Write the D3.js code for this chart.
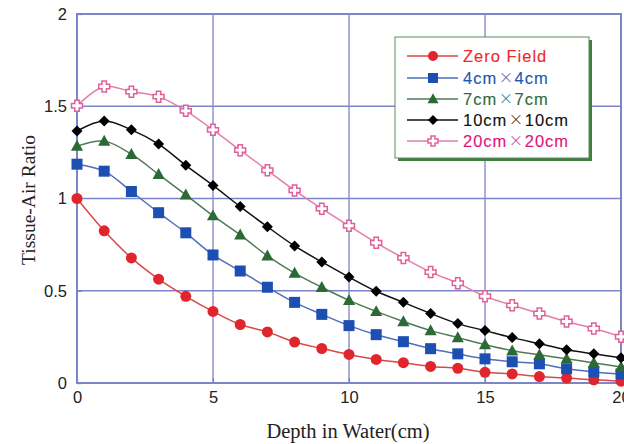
<!DOCTYPE html>
<html>
<head>
<meta charset="utf-8">
<script src="https://cdn.jsdelivr.net/npm/d3@7"></script>
<style>
  html, body { margin: 0; padding: 0; background: #fff; }
  svg { display: block; }
</style>
</head>
<body>
<svg id="chart" width="624" height="444"></svg>
<script>
// Depth in water (cm)
const depths = d3.range(0, 21);

// Tissue-air ratio for each field size
const zeroField = [1.0, 0.825, 0.678, 0.563, 0.47, 0.388, 0.317, 0.277, 0.222, 0.187, 0.155, 0.128, 0.11, 0.09, 0.08, 0.058, 0.049, 0.035, 0.027, 0.017, 0.01];
const field4 = [1.186, 1.148, 1.038, 0.923, 0.814, 0.694, 0.607, 0.519, 0.437, 0.372, 0.311, 0.262, 0.224, 0.186, 0.158, 0.131, 0.115, 0.104, 0.077, 0.06, 0.049];
const field7 = [1.284, 1.311, 1.24, 1.131, 1.02, 0.907, 0.803, 0.689, 0.596, 0.519, 0.448, 0.388, 0.333, 0.284, 0.246, 0.208, 0.175, 0.153, 0.131, 0.109, 0.087];
const field10 = [1.366, 1.42, 1.372, 1.295, 1.18, 1.071, 0.956, 0.847, 0.743, 0.656, 0.574, 0.497, 0.437, 0.377, 0.322, 0.284, 0.246, 0.213, 0.18, 0.158, 0.137];
const field20 = [1.503, 1.607, 1.579, 1.552, 1.475, 1.372, 1.262, 1.153, 1.044, 0.945, 0.852, 0.76, 0.678, 0.601, 0.541, 0.47, 0.421, 0.377, 0.333, 0.295, 0.251];

// legend labels split around the multiplication sign
const seriesNames = [["Zero Field"], ["4cm", "4cm"], ["7cm", "7cm"], ["10cm", "10cm"], ["20cm", "20cm"]];
const xTicks = [0, 5, 10, 15, 20];
const yTicks = [0, 0.5, 1, 1.5, 2];

const styles = [
  { line: "#d9484a", fill: "#e0262c", stroke: "#e0262c", text: "#ee2a2a", shape: "circle" },
  { line: "#4f6fbb", fill: "#1d4fb3", stroke: "#1d4fb3", text: "#1b55b5", shape: "square" },
  { line: "#4f7a55", fill: "#2b6a35", stroke: "#2b6a35", text: "#2f6a38", shape: "triangle" },
  { line: "#111111", fill: "#000000", stroke: "#000000", text: "#111111", shape: "diamond" },
  { line: "#e27fa6", fill: "#ffffff", stroke: "#e0609a", text: "#e0147c", shape: "cross" }
];
const seriesData = [zeroField, field4, field7, field10, field20];

const svg = d3.select("#chart");
const x = d3.scaleLinear().domain([0, 20]).range([77, 621]);
const y = d3.scaleLinear().domain([0, 2]).range([383, 14]);
const gridColor = "#7d84c9";
const sans = "Liberation Sans, Arial, sans-serif";
const serif = "Liberation Serif, Times New Roman, serif";

// grid
const grid = svg.append("g");
grid.selectAll("line.v").data(xTicks.slice(1, -1)).join("line")
  .attr("x1", d => x(d)).attr("x2", d => x(d))
  .attr("y1", y(2)).attr("y2", y(0))
  .attr("stroke", gridColor).attr("stroke-width", 1.3);
grid.selectAll("line.h").data(yTicks.slice(1, -1)).join("line")
  .attr("x1", x(0)).attr("x2", x(20))
  .attr("y1", d => y(d)).attr("y2", d => y(d))
  .attr("stroke", gridColor).attr("stroke-width", 1.3);

// axes
const xAxis = d3.axisBottom(x).tickValues(xTicks).tickSize(-5).tickPadding(8).tickFormat(d3.format("d"));
const yAxis = d3.axisLeft(y).tickValues(yTicks).tickSize(-5).tickPadding(10).tickFormat(d => String(d));
const gx = svg.append("g").attr("transform", `translate(0,${y(0)})`).call(xAxis);
const gy = svg.append("g").attr("transform", `translate(${x(0)},0)`).call(yAxis);
[gx, gy].forEach(g => {
  g.select(".domain").remove();
  g.selectAll(".tick line").attr("stroke", gridColor).attr("stroke-width", 1.3);
  g.selectAll(".tick text").attr("fill", "#222").attr("font-family", sans).attr("font-size", 16.5);
});

// frame
svg.append("rect")
  .attr("x", x(0)).attr("y", y(2))
  .attr("width", x(20) - x(0)).attr("height", y(0) - y(2))
  .attr("fill", "none").attr("stroke", gridColor).attr("stroke-width", 2);

// markers
function drawMarker(g, shape, st, size) {
  const s = size;
  if (shape === "circle") {
    g.append("circle").attr("r", s * 0.5).attr("fill", st.fill);
  } else if (shape === "square") {
    g.append("rect").attr("x", -s / 2).attr("y", -s / 2).attr("width", s).attr("height", s).attr("fill", st.fill);
  } else if (shape === "triangle") {
    const h = s * 0.95;
    g.append("path").attr("d", `M0,${-h * 0.6}L${s * 0.55},${h * 0.45}L${-s * 0.55},${h * 0.45}Z`).attr("fill", st.fill);
  } else if (shape === "diamond") {
    const r = s * 0.5;
    g.append("path").attr("d", `M0,${-r}L${r},0L0,${r}L${-r},0Z`).attr("fill", st.fill);
  } else if (shape === "cross") {
    const a = s * 0.5, b = s * 0.2;
    g.append("path")
      .attr("d", `M${-b},${-a}H${b}V${-b}H${a}V${b}H${b}V${a}H${-b}V${b}H${-a}V${-b}H${-b}Z`)
      .attr("fill", st.fill).attr("stroke", st.stroke).attr("stroke-width", 1.5);
  }
}
const markerSize = [11, 11, 11, 11, 11];

const line = d3.line()
  .x((d, i) => x(depths[i]))
  .y(d => y(d))
  .curve(d3.curveCatmullRom.alpha(0.5));

const plot = svg.append("g");
seriesData.forEach((vals, k) => {
  const st = styles[k];
  plot.append("path").datum(vals)
    .attr("d", line)
    .attr("fill", "none").attr("stroke", st.line).attr("stroke-width", 1.5);
});
seriesData.forEach((vals, k) => {
  const st = styles[k];
  vals.forEach((v, i) => {
    const g = plot.append("g").attr("transform", `translate(${x(depths[i])},${y(v)})`);
    drawMarker(g, st.shape, st, markerSize[k]);
  });
});

// axis titles
svg.append("text")
  .attr("x", 348).attr("y", 438)
  .attr("text-anchor", "middle")
  .attr("font-family", serif).attr("font-size", 20.5)
  .attr("fill", "#222")
  .text("Depth in Water(cm)");
svg.append("text")
  .attr("transform", `translate(35,200) rotate(-90)`)
  .attr("text-anchor", "middle")
  .attr("font-family", serif).attr("font-size", 19.5)
  .attr("fill", "#222")
  .text("Tissue-Air Ratio");

// legend
const lg = svg.append("g");
lg.append("rect").attr("x", 398).attr("y", 40).attr("width", 194).attr("height", 121).attr("fill", "#3d7f3f");
lg.append("rect").attr("x", 395).attr("y", 37).attr("width", 194).attr("height", 121)
  .attr("fill", "#ffffff").attr("stroke", "#5f8a60").attr("stroke-width", 1);
const rowY = [56, 78, 99, 120, 141];
seriesNames.forEach((parts, k) => {
  const st = styles[k];
  const ry = rowY[k];
  lg.append("line").attr("x1", 407).attr("x2", 458).attr("y1", ry).attr("y2", ry)
    .attr("stroke", st.line).attr("stroke-width", 1.5);
  const g = lg.append("g").attr("transform", `translate(433,${ry})`);
  drawMarker(g, st.shape, st, 10);
  // label pieces are laid out one after another; the sign uses a full-width glyph
  let cx = 463;
  parts.forEach((p, j) => {
    if (j > 0) {
      const sign = lg.append("text").attr("x", cx + 1.5).attr("y", ry + 5)
        .attr("font-family", "Noto Sans CJK JP").attr("font-weight", 300).attr("font-size", 14.4)
        .attr("fill", st.text).text("\u00d7");
      cx += sign.node().getComputedTextLength() + 3;
    }
    const t = lg.append("text").attr("x", cx).attr("y", ry + 6)
      .attr("font-family", sans).attr("font-size", 16.5)
      .attr("letter-spacing", 1)
      .attr("fill", st.text).attr("stroke", st.text).attr("stroke-width", 0.12)
      .text(p);
    cx += t.node().getComputedTextLength();
  });
});
</script>
</body>
</html>
